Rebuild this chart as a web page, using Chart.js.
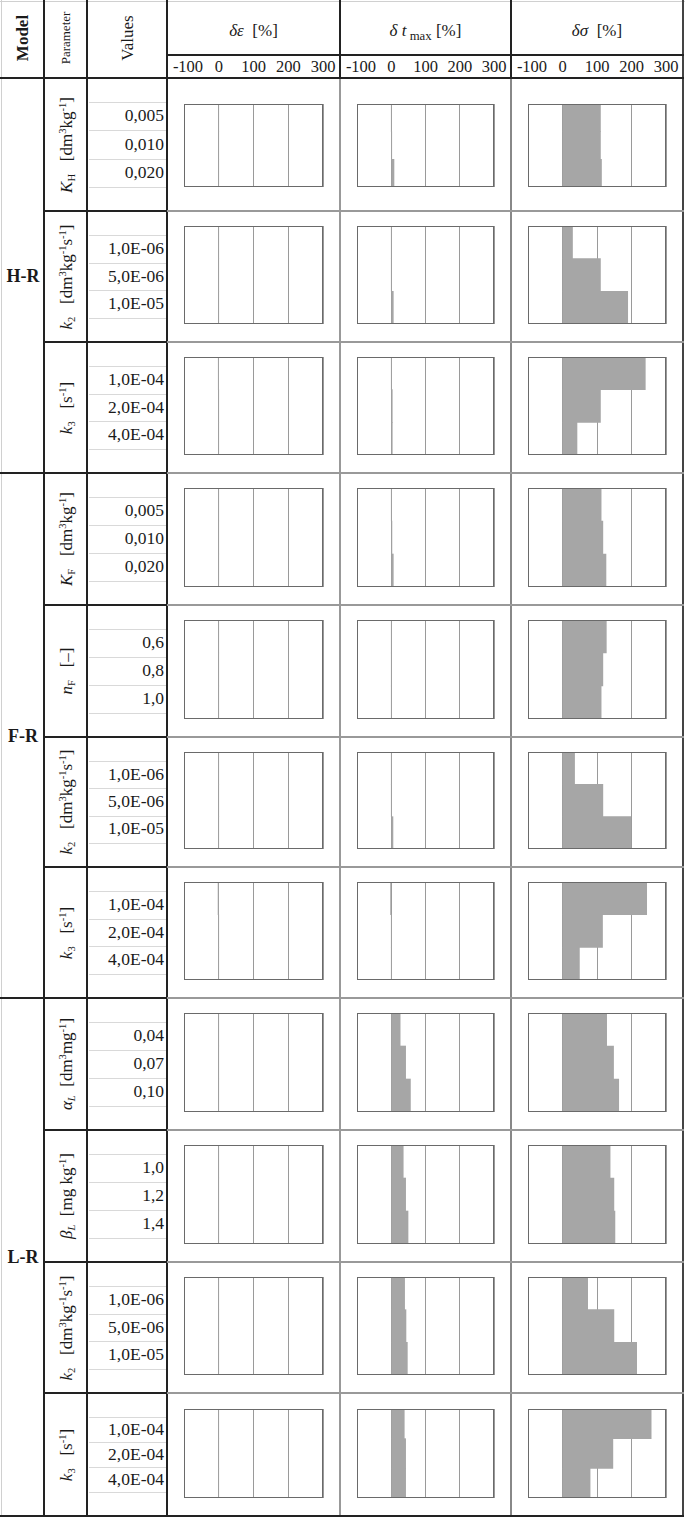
<!DOCTYPE html>
<html>
<head>
<meta charset="utf-8">
<script src="https://cdn.jsdelivr.net/npm/chart.js@4.4.1/dist/chart.umd.min.js"></script>
<style>
  body { margin: 0; background: #fff; }
  #sheet { position: relative; width: 685px; height: 1518px; overflow: hidden;
           font-family: "Liberation Serif", "Times New Roman", serif; color: #1a1a1a; }
  .ln { position: absolute; }
  .t { position: absolute; white-space: nowrap; line-height: 1; }
  .rot { transform: translate(-50%, -50%) rotate(-90deg); }
  .ctr { transform: translate(-50%, -50%); }
  sup, sub { font-size: 0.62em; line-height: 0; position: relative; vertical-align: baseline; }
  sup { top: -0.6em; }
  sub { top: 0.3em; }
  canvas { position: absolute; }
</style>
</head>
<body>
<div id="sheet"></div>
<script>
// Table content
const models = ['H-R', 'F-R', 'L-R'];
const modelRowCount = [3, 4, 4];

const paramLabels = [
  '<i>K</i><sub>H</sub>&nbsp;&nbsp;&nbsp;[dm<sup>3</sup>kg<sup>-1</sup>]',
  '<i>k</i><sub>2</sub>&nbsp;&nbsp;&nbsp;[dm<sup>3</sup>kg<sup>-1</sup>s<sup>-1</sup>]',
  '<i>k</i><sub>3</sub>&nbsp;&nbsp;&nbsp;[s<sup>-1</sup>]',
  '<i>K</i><sub>F</sub>&nbsp;&nbsp;&nbsp;[dm<sup>3</sup>kg<sup>-1</sup>]',
  '<i>n</i><sub>F</sub>&nbsp;&nbsp;&nbsp;[–]',
  '<i>k</i><sub>2</sub>&nbsp;&nbsp;&nbsp;[dm<sup>3</sup>kg<sup>-1</sup>s<sup>-1</sup>]',
  '<i>k</i><sub>3</sub>&nbsp;&nbsp;&nbsp;[s<sup>-1</sup>]',
  '<i>α</i><sub><i>L</i></sub>&nbsp;&nbsp;[dm<sup>3</sup>mg<sup>-1</sup>]',
  '<i>β</i><sub><i>L</i></sub>&nbsp;&nbsp;[mg kg<sup>-1</sup>]',
  '<i>k</i><sub>2</sub>&nbsp;&nbsp;&nbsp;[dm<sup>3</sup>kg<sup>-1</sup>s<sup>-1</sup>]',
  '<i>k</i><sub>3</sub>&nbsp;&nbsp;&nbsp;[s<sup>-1</sup>]'
];

const paramValues = [
  ['0,005', '0,010', '0,020'],
  ['1,0E-06', '5,0E-06', '1,0E-05'],
  ['1,0E-04', '2,0E-04', '4,0E-04'],
  ['0,005', '0,010', '0,020'],
  ['0,6', '0,8', '1,0'],
  ['1,0E-06', '5,0E-06', '1,0E-05'],
  ['1,0E-04', '2,0E-04', '4,0E-04'],
  ['0,04', '0,07', '0,10'],
  ['1,0', '1,2', '1,4'],
  ['1,0E-06', '5,0E-06', '1,0E-05'],
  ['1,0E-04', '2,0E-04', '4,0E-04']
];

// Relative changes [%], one array per parameter row
const dEps = [
  [0, 0, 0], [0, 0, 0], [-1, 0, 0], [0, 0, 0], [0, 0, 0], [0, 0, 0],
  [-2, 0, 0], [0, 0, 0], [0, 0, 0], [0, 0, 0], [0, 0, 0]
];
const dTmax = [
  [0, 1, 8], [0, 0, 6], [0, 3, 3], [0, 2, 6], [0, 0, 0], [0, 0, 5],
  [-2, 0, 0], [26, 42, 56], [35, 42, 49], [39, 43, 47], [38, 42, 42]
];
const dSigma = [
  [110, 110, 113], [29, 110, 189], [240, 110, 42], [112, 117, 126], [127, 117, 112],
  [35, 117, 198], [244, 116, 49], [128, 148, 163], [138, 149, 152], [73, 149, 215], [257, 146, 80]
];

const tickLabels = ['-100', '0', '100', '200', '300'];
const columnTitles = ['<i>δε</i>&nbsp; [%]', '<i>δ t</i><sub style="font-size:0.75em">&nbsp;max</sub> [%]', '<i>δσ</i>&nbsp; [%]'];
const xMin = -100, xMax = 300;

// Layout
const colX = [0, 44, 87, 167, 340, 511, 683];
const rowY = [78, 211, 342, 473, 605, 737, 867, 998, 1130, 1262, 1393, 1516];
const sheet = document.getElementById('sheet');

function el(cls, x, y, html, css) {
  const d = document.createElement('div');
  d.className = cls;
  d.style.left = x + 'px';
  d.style.top = y + 'px';
  if (html) d.innerHTML = html;
  if (css) Object.assign(d.style, css);
  sheet.appendChild(d);
  return d;
}
function hline(x1, x2, y, w, color) {
  el('ln', x1, y - Math.floor(w / 2), '', { width: (x2 - x1) + 'px', height: w + 'px', background: color });
}
function vline(x, y1, y2, w, color) {
  el('ln', x - Math.floor(w / 2), y1, '', { width: w + 'px', height: (y2 - y1) + 'px', background: color });
}

// draws the box around the plot area
const frame = {
  id: 'frame',
  afterDraw(chart) {
    const { ctx, chartArea: a } = chart;
    ctx.save();
    ctx.strokeStyle = '#6a6a6a';
    ctx.lineWidth = 1;
    ctx.strokeRect(a.left + 0.5, a.top + 0.5, a.right - a.left - 1, a.bottom - a.top - 1);
    ctx.restore();
  }
};

function makeChart(x, y, w, h, labels, values, pad) {
  const c = document.createElement('canvas');
  c.width = w;
  c.height = h;
  c.style.left = x + 'px';
  c.style.top = y + 'px';
  sheet.appendChild(c);
  new Chart(c, {
    type: 'bar',
    data: {
      labels: labels,
      datasets: [{
        data: values,
        backgroundColor: '#a6a6a6',
        borderWidth: 0,
        barPercentage: 1,
        categoryPercentage: 1
      }]
    },
    options: {
      indexAxis: 'y',
      responsive: false,
      animation: false,
      devicePixelRatio: 1,
      layout: { padding: pad },
      plugins: { legend: { display: false }, tooltip: { enabled: false } },
      scales: {
        x: {
          min: xMin,
          max: xMax,
          ticks: { display: false, stepSize: 100 },
          grid: { color: '#9a9a9a', lineWidth: 1, drawTicks: false },
          border: { display: false }
        },
        y: { display: false }
      }
    },
    plugins: [frame]
  });
}

// Header
el('t rot', 22, 38, 'Model', { fontWeight: 'bold', fontSize: '17px' });
el('t rot', 65, 38, 'Parameter', { fontSize: '13px' });
el('t rot', 127, 38, 'Values', { fontSize: '17px' });
columnTitles.forEach((title, j) => {
  const cx = (colX[3 + j] + colX[4 + j]) / 2;
  el('t ctr', cx, 30, title, { fontSize: '17px' });
  const boxL = colX[3 + j] + 17;
  const boxW = colX[4 + j] - colX[3 + j] - 34;
  tickLabels.forEach((lab, k) => {
    const tx = boxL + k * boxW / (tickLabels.length - 1) + (k === 0 ? 4 : 0);
    el('t ctr', tx, 67, lab, { fontSize: '16.5px' });
  });
});

// Model labels
let r0 = 0;
models.forEach((m, g) => {
  const yc = (rowY[r0] + rowY[r0 + modelRowCount[g]]) / 2;
  el('t ctr', 23, yc, m, { fontWeight: 'bold', fontSize: '18px' });
  r0 += modelRowCount[g];
});

// Rows
const series = [dEps, dTmax, dSigma];
paramLabels.forEach((lab, i) => {
  const top = rowY[i], h = rowY[i + 1] - rowY[i];
  el('t rot', 66, top + h / 2, lab, { fontSize: '17px' });

  // value slots
  const slotTop = top + 24;
  const slotH = (h - 48) / 3;
  for (let k = 0; k <= 3; k++) hline(89, 166, Math.round(slotTop + k * slotH), 1, '#d9d9d9');
  paramValues[i].forEach((v, k) => {
    el('t', 0, Math.round(slotTop + k * slotH + slotH / 2 - 9), v,
      { fontSize: '17.5px', width: '164px', textAlign: 'right' });
  });

  const pad = i === 0 ? { top: 26, bottom: 24 } : (i === paramLabels.length - 1 ? { top: 16, bottom: 18 } : { top: 15, bottom: 18 });
  series.forEach((s, j) => {
    const x = colX[3 + j], w = colX[4 + j] - colX[3 + j];
    makeChart(x, top, w, h, paramValues[i], s[i], { left: 17, right: 17, top: pad.top, bottom: pad.bottom });
  });
});

// Grid of the table
hline(0, 685, 1, 1, '#d0d0d0');
vline(1, 0, 1516, 1, '#d0d0d0');
vline(44, 0, 1517, 2, '#222');
vline(87, 0, 1517, 2, '#222');
vline(167, 0, 1517, 2, '#222');
vline(340, 0, 78, 2, '#222');
vline(511, 0, 78, 2, '#222');
vline(340, 78, 1516, 2, '#999');
vline(511, 78, 1516, 2, '#888');
vline(683, 0, 1517, 2, '#444');
hline(167, 684, 55, 2, '#222');
hline(0, 684, 78, 2, '#222');
for (let i = 1; i < rowY.length - 1; i++) {
  hline(44, 167, rowY[i], 2, '#222');
  hline(167, 684, rowY[i], 2, '#999');
}
let acc = 0;
modelRowCount.forEach(n => {
  acc += n;
  hline(0, 167, rowY[acc], 2, '#222');
});
hline(0, 684, 1516, 2, '#222');
</script>
</body>
</html>
